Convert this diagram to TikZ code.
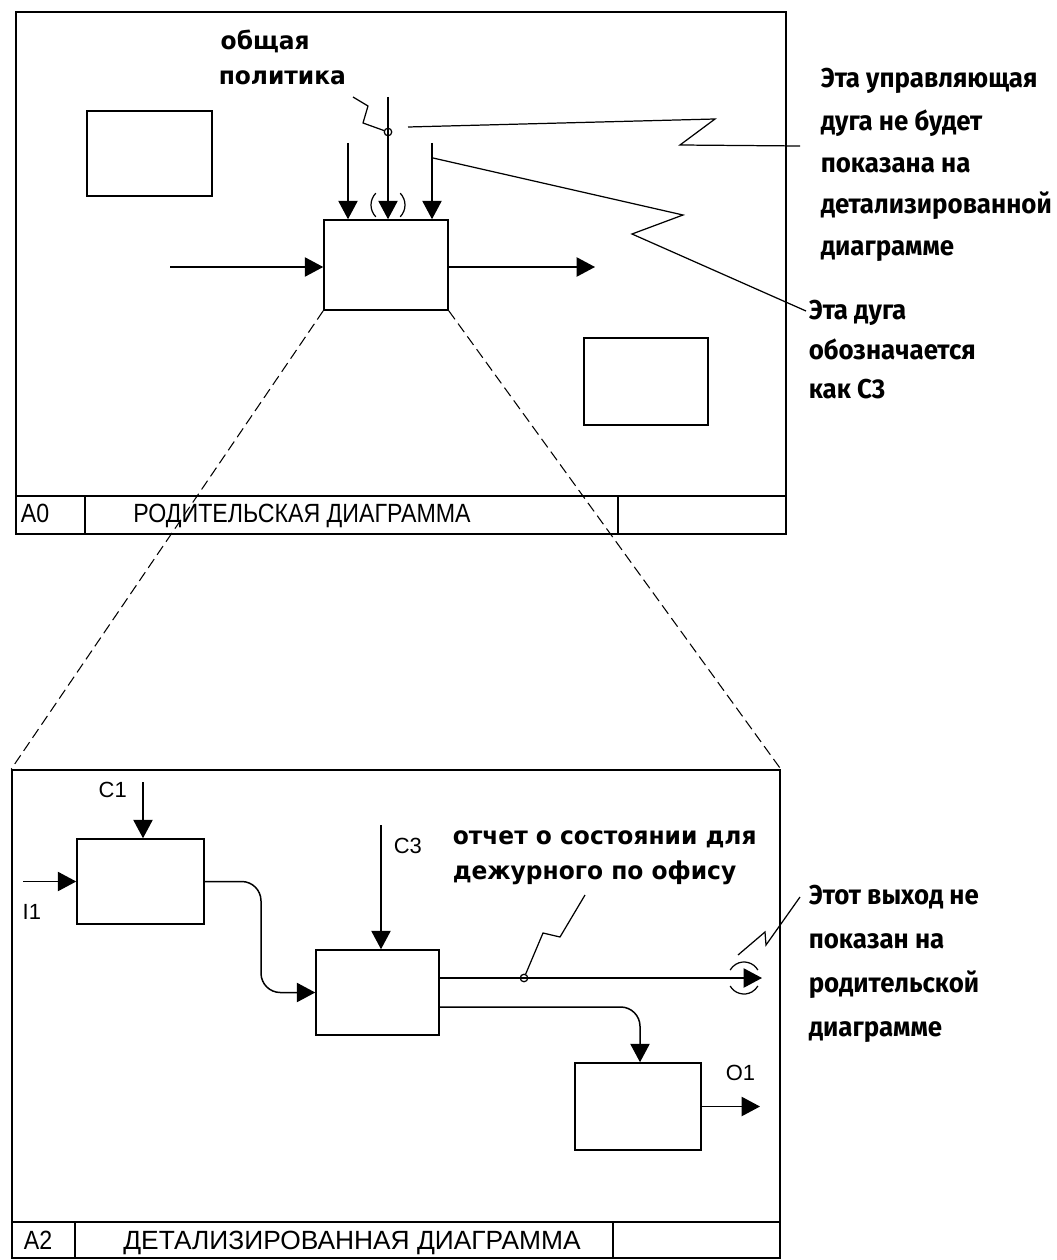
\documentclass[tikz,border=0pt]{standalone}
\usepackage{fontspec}
\setmainfont{Liberation Sans}
\newfontfamily\gothfont{DejaVu Sans}[FakeStretch=0.95]
\newfontfamily\annfont{Fira Sans}[FakeStretch=0.95]
\newfontfamily\ttlfont{Liberation Sans}[FakeStretch=0.88]
\usetikzlibrary{arrows.meta}
\begin{document}
\begin{tikzpicture}[x=0.02cm,y=-0.02cm,
  line width=0.85pt,
  frame/.style={draw, line width=1pt, inner sep=0pt},
  box/.style={draw, line width=0.9pt, inner sep=0pt},
  arr/.style={-{Triangle[length=10.5pt,width=11pt]}},
  leader/.style={line width=0.7pt},
  dotmark/.style={draw, circle, line width=0.7pt, inner sep=0pt, minimum size=0.15cm},
  zoomdash/.style={line width=0.6pt, dash pattern=on 6pt off 3pt},
  ann/.style={font=\annfont\bfseries\fontsize{15.5}{18}\selectfont, anchor=base west, inner sep=0pt},
  goth/.style={font=\gothfont\bfseries\fontsize{14}{16}\selectfont, anchor=base west, inner sep=0pt},
  lbl/.style={font=\fontsize{12.5}{14}\selectfont, anchor=base west, inner sep=0pt},
  ttl/.style={font=\ttlfont\fontsize{15}{17}\selectfont, anchor=base, inner sep=0pt},
]
\useasboundingbox (0,0) rectangle (1057,1260);
\fill[white] (0,0) rectangle (1057,1260);

% ---------- parent diagram frame ----------
\node[frame, minimum width=15.4cm, minimum height=10.44cm] (F1) at (401,273) {};
\draw[line width=1pt] (16,496) -- (786,496);
\draw (85,496) -- (85,534);
\draw (618,496) -- (618,534);
\node[ttl] (t0a) at (35,522) {A0};
\node[ttl] (t0b) at (302,522) {РОДИТЕЛЬСКАЯ ДИАГРАММА};

% boxes
\node[box, minimum width=2.5cm, minimum height=1.7cm] (P1) at (149.5,153.5) {};
\node[box, minimum width=2.48cm, minimum height=1.8cm] (B0) at (386,265) {};
\node[box, minimum width=2.48cm, minimum height=1.74cm] (P3) at (646,381.5) {};

% controls
\coordinate (c1) at (348,143);
\coordinate (c2) at (388,97);
\coordinate (c3) at (432,143);
\draw[arr] (c1) -- (c1 |- B0.north);
\draw[arr] (c2) -- (c2 |- B0.north);
\draw[arr] (c3) -- (c3 |- B0.north);
\node[dotmark] (m0) at (388,132) {};
% tunnel parentheses
\draw[line width=0.7pt] ([shift={(136:0.34cm)}]388,205) arc[start angle=136,end angle=224,radius=0.34cm];
\draw[line width=0.7pt] ([shift={(-44:0.34cm)}]388,205) arc[start angle=-44,end angle=44,radius=0.34cm];
% input / output
\coordinate (i0) at (170,267);
\draw[arr] (i0) -- (i0 -| B0.west);
\coordinate (o0) at (595,267);
\draw[arr] (B0.east |- o0) -- (o0);

% labels
\node[goth] (pol1) at (220,50) {общая};
\node[goth] (pol2) at (218,85) {политика};
\draw[leader] (353,97) -- (368,106) -- (363,123) -- (m0);

% annotations
\node[ann] (a1) at (820,88) {Эта управляющая};
\node[ann] (a2) at (820,131) {дуга не будет};
\node[ann] (a3) at (820,173) {показана на};
\node[ann] (a4) at (820,214) {детализированной};
\node[ann] (a5) at (820,256) {диаграмме};
\node[ann] (b1) at (808,319) {Эта дуга};
\node[ann] (b2) at (808,359) {обозначается};
\node[ann] (b3) at (808,398) {как C3};

\coordinate (l1a) at (800,146);
\coordinate (l1e) at (408,127);
\draw[leader] (l1a) -- (680,145) -- (715,119) -- (l1e);
\coordinate (l2a) at (806,311);
\coordinate (l2e) at (433,158);
\draw[leader] (l2a) -- (632,234) -- (683,215) -- (l2e);

% ---------- detail diagram frame ----------
\node[frame, minimum width=15.36cm, minimum height=9.76cm] (F2) at (396,1014) {};
\draw[line width=1pt] (12,1222) -- (780,1222);
\draw (75,1222) -- (75,1258);
\draw (613,1222) -- (613,1258);
\node[ttl] (t2a) at (38,1249) {A2};
\node[ttl, font=\fontsize{15}{17}\selectfont] (t2b) at (352,1249) {ДЕТАЛИЗИРОВАННАЯ ДИАГРАММА};

% zoom lines
\draw[zoomdash] (B0.south west) -- (F2.north west);
\draw[zoomdash] (B0.south east) -- (F2.north east);

% boxes
\node[box, minimum width=2.54cm, minimum height=1.7cm] (B1) at (140.5,881.5) {};
\node[box, minimum width=2.46cm, minimum height=1.7cm] (B2) at (377.5,992.5) {};
\node[box, minimum width=2.52cm, minimum height=1.74cm] (B3) at (638,1106.5) {};

\coordinate (cC1) at (143,782);
\draw[arr] (cC1) -- (cC1 |- B1.north);
\node[lbl] (lC1) at (98,797) {C1};
\coordinate (cI1) at (23,881.5);
\draw[arr] (cI1) -- (B1.west);
\node[lbl] (lI1) at (22,919) {I1};
\draw[arr, rounded corners=11pt] (B1.east) -- (261,881.5) -- (261,992.5) -- (B2.west);
\coordinate (cC3) at (381,825);
\draw[arr] (cC3) -- (cC3 |- B2.north);
\node[lbl] (lC3) at (393,853) {C3};
\coordinate (o1) at (762,978);
\draw[arr] (B2.east |- o1) -- (o1);
\node[dotmark] (m1) at (524,978) {};
\draw[line width=0.7pt] ([shift={(30:0.32cm)}]744,978) arc[start angle=30,end angle=150,radius=0.32cm];
\draw[line width=0.7pt] ([shift={(210:0.32cm)}]744,978) arc[start angle=210,end angle=330,radius=0.32cm];
\draw[arr, rounded corners=11pt] (B2.east |- 0,1007) -- (640,1007) -- (640,1007 |- B3.north);
\coordinate (oO1) at (760,1106.5);
\draw[arr] (B3.east) -- (oO1);
\node[lbl] (lO1) at (725,1080) {O1};

\node[goth] (r1) at (452,844) {отчет о состоянии для};
\node[goth] (r2) at (452,879) {дежурного по офису};
\draw[leader] (585,895) -- (560,937) -- (543,933) -- (m1);

\node[ann] (e1) at (808,904) {Этот выход не};
\node[ann] (e2) at (808,948) {показан на};
\node[ann] (e3) at (808,992) {родительской};
\node[ann] (e4) at (808,1036) {диаграмме};
\draw[leader] (800,897) -- (766,945) -- (765,932) -- (738,955);
\end{tikzpicture}
\end{document}
